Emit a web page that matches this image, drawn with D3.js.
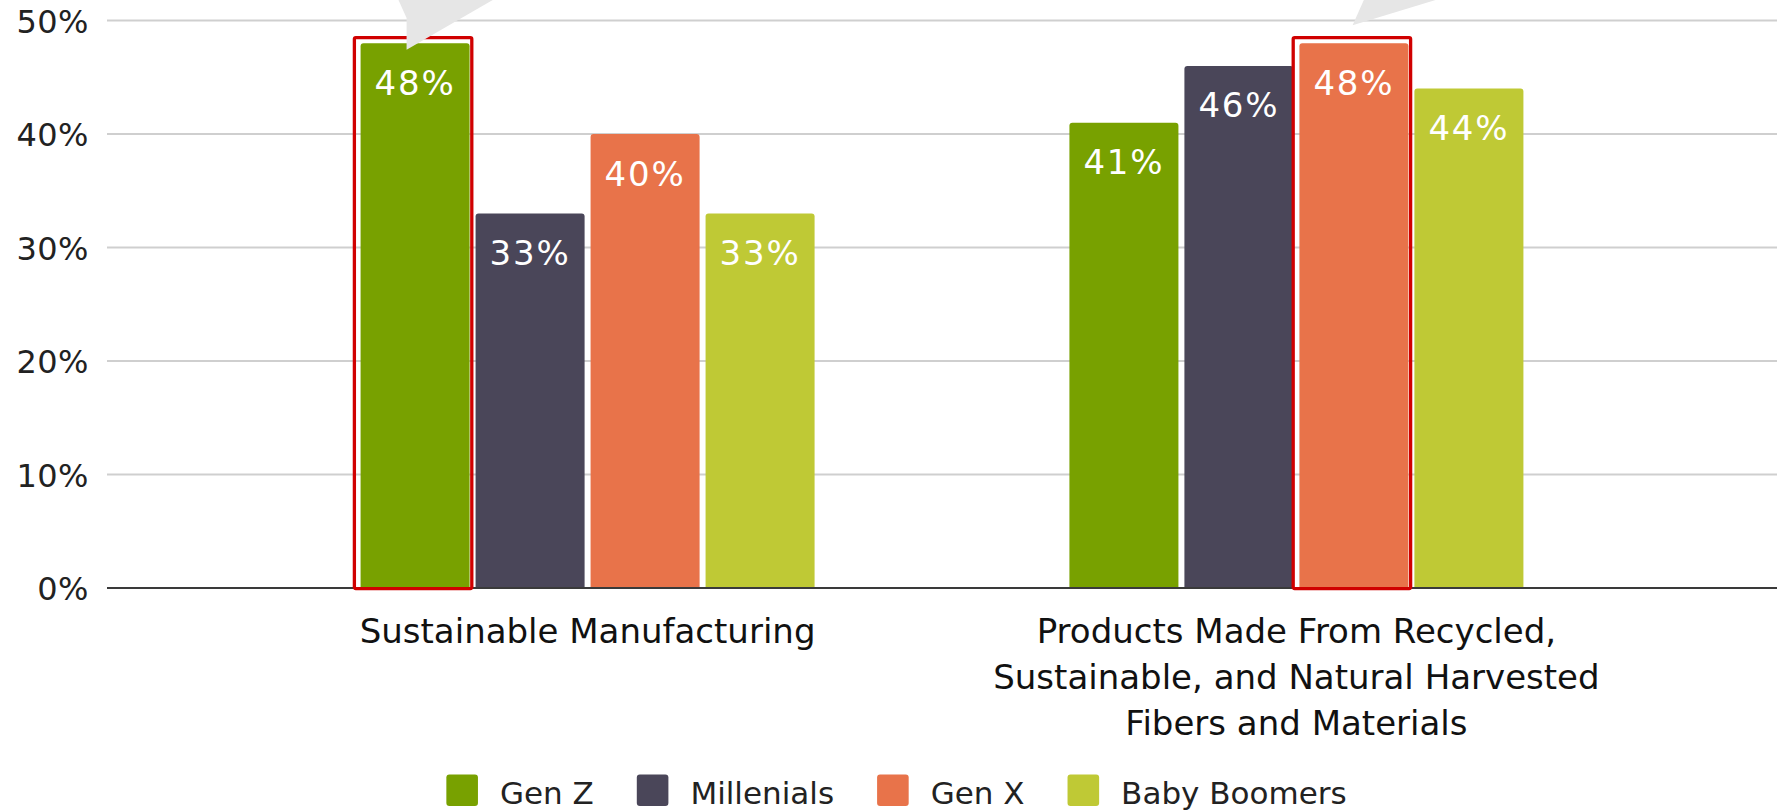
<!DOCTYPE html>
<html>
<head>
<meta charset="utf-8">
<script src="https://cdn.jsdelivr.net/npm/d3@7"></script>
<style>
  html, body { margin: 0; padding: 0; background: #ffffff; }
  svg { display: block; font-family: "DejaVu Sans", Verdana, sans-serif; }
</style>
</head>
<body>
<svg id="chart" width="1787" height="812"></svg>
<script>
// ---------- data ----------
const categories = [
  "Sustainable Manufacturing",
  "Products Made From Recycled, Sustainable, and Natural Harvested Fibers and Materials"
];
const categoryLines = [
  ["Sustainable Manufacturing"],
  ["Products Made From Recycled,", "Sustainable, and Natural Harvested", "Fibers and Materials"]
];
const seriesNames = ["Gen Z", "Millenials", "Gen X", "Baby Boomers"];
const genZ = [48, 41];
const millenials = [33, 46];
const genX = [40, 48];
const babyBoomers = [33, 44];
const seriesColors = ["#78a100", "#4a4659", "#e8734a", "#bfc935"];
const yTicks = [0, 10, 20, 30, 40, 50];
const highlighted = [
  { category: 0, series: "Gen Z" },
  { category: 1, series: "Gen X" }
];

const seriesValues = [genZ, millenials, genX, babyBoomers];

// ---------- layout ----------
const W = 1787, H = 812;
const plotLeft = 107, plotRight = 1777, plotTop = 20.5, plotBottom = 588;
const svg = d3.select("#chart");

const x0 = d3.scalePoint().domain(categories).range([plotLeft, plotRight]).padding(0.678);
const x1 = d3.scaleBand().domain(seriesNames).range([-227, 227]).paddingInner(0.052).paddingOuter(0);
const y = d3.scaleLinear().domain([0, 50]).range([plotBottom, plotTop]);
const color = d3.scaleOrdinal().domain(seriesNames).range(seriesColors);

// y labels via axis
const yAxis = d3.axisLeft(y).tickValues(yTicks).tickFormat(d => d + "%").tickSize(0).tickPadding(18);
const gy = svg.append("g").attr("transform", `translate(${plotLeft},0)`).call(yAxis);
gy.select(".domain").remove();
gy.selectAll("text")
  .attr("font-family", "DejaVu Sans, Verdana, sans-serif")
  .attr("font-size", 32)
  .attr("letter-spacing", 0.5)
  .attr("fill", "#222")
  .attr("dy", "0.36em");

// gridlines
svg.append("g").selectAll("line")
  .data(yTicks.filter(d => d > 0))
  .join("line")
  .attr("x1", plotLeft).attr("x2", plotRight)
  .attr("y1", d => y(d)).attr("y2", d => y(d))
  .attr("stroke", "#cfcfcf").attr("stroke-width", 2);

// bars
function topRoundedRect(x, yTop, w, h, r) {
  r = Math.min(r, h / 2, w / 2);
  return `M${x},${yTop + h}V${yTop + r}Q${x},${yTop} ${x + r},${yTop}` +
         `H${x + w - r}Q${x + w},${yTop} ${x + w},${yTop + r}V${yTop + h}Z`;
}

const barData = [];
categories.forEach((c, ci) => {
  seriesNames.forEach((s, si) => {
    barData.push({ category: c, ci, series: s, value: seriesValues[si][ci] });
  });
});

svg.append("g").selectAll("path")
  .data(barData)
  .join("path")
  .attr("d", d => {
    const bx = x0(d.category) + x1(d.series);
    return topRoundedRect(bx, y(d.value), x1.bandwidth(), y(0) - y(d.value), 3);
  })
  .attr("fill", d => color(d.series));

// x baseline
svg.append("line")
  .attr("x1", plotLeft).attr("x2", plotRight)
  .attr("y1", y(0)).attr("y2", y(0))
  .attr("stroke", "#3a3a3a").attr("stroke-width", 2);

// data labels
svg.append("g").selectAll("text")
  .data(barData)
  .join("text")
  .attr("x", d => x0(d.category) + x1(d.series) + x1.bandwidth() / 2)
  .attr("y", d => y(d.value) + 51.5)
  .attr("text-anchor", "middle")
  .attr("font-size", 34)
  .attr("letter-spacing", 1.8)
  .attr("fill", "#ffffff")
  .text(d => d.value + "%");

// highlight boxes
const hl = highlighted.map(h => {
  const ci = h.category, si = seriesNames.indexOf(h.series);
  const cat = categories[ci];
  const bx = x0(cat) + x1(h.series);
  return { bx, top: y(seriesValues[si][ci]), ci };
});
svg.append("g").selectAll("rect")
  .data(hl)
  .join("rect")
  .attr("x", d => d.bx - 6.2)
  .attr("y", d => d.top - 5.6)
  .attr("width", x1.bandwidth() + 8.4)
  .attr("height", d => y(0) + 0.6 - (d.top - 5.6))
  .attr("rx", 1.5)
  .attr("fill", "none")
  .attr("stroke", "#d00000")
  .attr("stroke-width", 3.3);

// callout pointers (from annotations above the chart)
const pointers = [
  (d => { const tx = d.bx + 46, ty = d.top + 6.6;
          return [[tx - 9, -2], [tx, 18], [tx, ty], [tx + (ty + 2) * 1.73, -2]]; })(hl[0]),
  (d => { const tx = d.bx + 53.2, ty = d.top - 18;
          return [[tx + 15.7, -10], [tx, ty], [tx + 115.9, -10]]; })(hl[1])
];
svg.append("g").selectAll("polygon")
  .data(pointers)
  .join("polygon")
  .attr("points", d => d.map(p => p.join(",")).join(" "))
  .attr("fill", "#e6e6e6");

// x category labels
const xl = svg.append("g");
categories.forEach((c, ci) => {
  const t = xl.append("text")
    .attr("x", x0(c))
    .attr("y", 642.5)
    .attr("text-anchor", "middle")
    .attr("font-size", 34)
    .attr("fill", "#111");
  categoryLines[ci].forEach((line, li) => {
    t.append("tspan").attr("x", x0(c)).attr("dy", li === 0 ? 0 : 46).text(line);
  });
});

// legend
const legendFont = 31, sq = 31.6, sqGap = 22, itemGap = 43;
const lg = svg.append("g");
const items = lg.selectAll("g").data(seriesNames).join("g");
items.append("rect")
  .attr("width", sq).attr("height", sq).attr("rx", 3)
  .attr("y", 774.5)
  .attr("fill", d => color(d));
items.append("text")
  .attr("x", sq + sqGap)
  .attr("y", 804)
  .attr("font-size", legendFont)
  .attr("fill", "#222")
  .text(d => d);
let widths = [];
items.each(function() { widths.push(d3.select(this).select("text").node().getComputedTextLength()); });
const total = widths.reduce((a, w) => a + sq + sqGap + w, 0) + itemGap * (widths.length - 1);
let cx = (W - total) / 2 + 3;
items.attr("transform", (d, i) => {
  const t = `translate(${cx},0)`;
  cx += sq + sqGap + widths[i] + itemGap;
  return t;
});
</script>
</body>
</html>
